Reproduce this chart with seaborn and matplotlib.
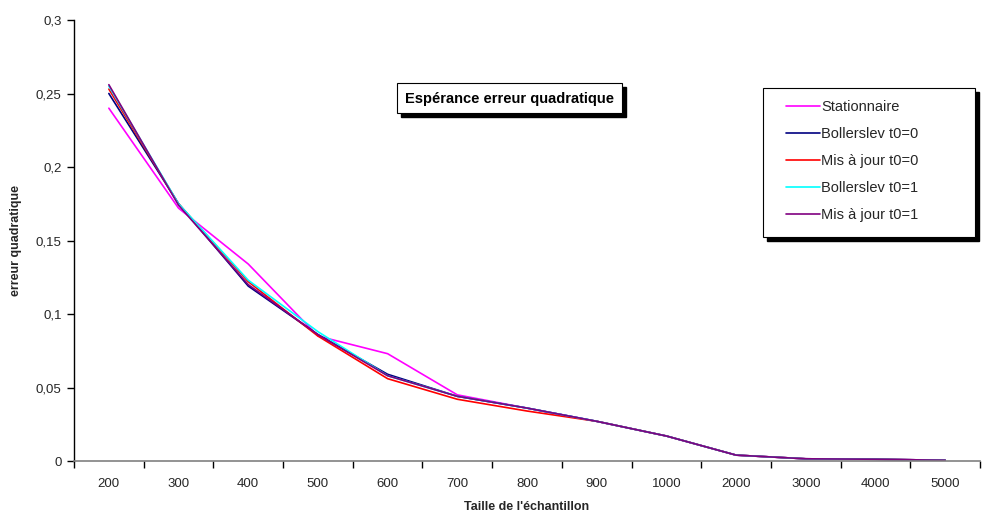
import matplotlib
matplotlib.use("Agg")
import matplotlib.pyplot as plt
from matplotlib.patches import Rectangle
import seaborn as sns
import pandas as pd
import numpy as np

categories = ["200", "300", "400", "500", "600", "700", "800", "900", "1000", "2000", "3000", "4000", "5000"]
stationnaire = [0.240, 0.172, 0.134, 0.085, 0.073, 0.045, 0.036, 0.027, 0.017, 0.004, 0.0015, 0.0012, 0.0005]
bollerslev_t0_0 = [0.250, 0.175, 0.119, 0.086, 0.059, 0.044, 0.036, 0.027, 0.017, 0.004, 0.0015, 0.0012, 0.0005]
misajour_t0_0 = [0.253, 0.175, 0.122, 0.085, 0.056, 0.042, 0.034, 0.027, 0.017, 0.004, 0.0015, 0.0012, 0.0005]
bollerslev_t0_1 = [0.255, 0.175, 0.123, 0.088, 0.058, 0.044, 0.036, 0.027, 0.017, 0.004, 0.0015, 0.0012, 0.0005]
misajour_t0_1 = [0.256, 0.174, 0.120, 0.086, 0.058, 0.044, 0.036, 0.027, 0.017, 0.004, 0.0015, 0.0012, 0.0005]

series_names = ["Stationnaire", "Bollerslev t0=0", "Mis à jour t0=0", "Bollerslev t0=1", "Mis à jour t0=1"]
series_values = [stationnaire, bollerslev_t0_0, misajour_t0_0, bollerslev_t0_1, misajour_t0_1]
colors = ["#FF00FF", "#000080", "#FF0000", "#00FFFF", "#800080"]

y_ticks = [0, 0.05, 0.1, 0.15, 0.2, 0.25, 0.3]
y_ticklabels = ["0", "0,05", "0,1", "0,15", "0,2", "0,25", "0,3"]

rows = []
for name, vals in zip(series_names, series_values):
    for i, (c, v) in enumerate(zip(categories, vals)):
        rows.append({"pos": i, "cat": c, "serie": name, "val": v})
df = pd.DataFrame(rows)

sns.set_style("white")
plt.rcParams["font.family"] = ["Liberation Sans", "DejaVu Sans"]

W, H = 1006, 514
fig = plt.figure(figsize=(W / 100, H / 100), dpi=100)
ax = fig.add_axes([74 / W, 1 - 461 / H, (980 - 74) / W, (461 - 20) / H])

sns.lineplot(data=df, x="pos", y="val", hue="serie", hue_order=series_names,
             palette=colors, linewidth=1.2, ax=ax, legend=True)

ax.set_xlim(-0.5, len(categories) - 0.5)
ax.set_ylim(0, 0.3)
ax.set_yticks(y_ticks)
ax.set_yticklabels(y_ticklabels, fontsize=9.5)
ax.set_xticks(range(len(categories)))
ax.set_xticklabels(categories, fontsize=9.5)
ax.set_xticks(np.arange(-0.5, len(categories), 1.0), minor=True)
ax.tick_params(axis="x", which="major", length=0, pad=12)
ax.tick_params(axis="x", which="minor", length=5, width=1, color="black", direction="out", bottom=True)
ax.tick_params(axis="y", which="major", length=5, width=1, color="black", direction="out", left=True, pad=4)

for s in ["top", "right"]:
    ax.spines[s].set_visible(False)
ax.spines["left"].set_color("black")
ax.spines["bottom"].set_color("#808080")
ax.spines["left"].set_linewidth(1)
ax.spines["bottom"].set_linewidth(1.2)
ax.grid(False)

ax.set_xlabel("Taille de l'échantillon", fontsize=9, fontweight="bold", labelpad=8)
ax.set_ylabel("erreur quadratique", fontsize=9, fontweight="bold", labelpad=10)

handles, labels = ax.get_legend_handles_labels()
ax.get_legend().remove()


def shadow_box(x0, y0, x1, y1, off=4):
    # pixel coords from top-left
    fig.patches.append(Rectangle(((x0 + off) / W, 1 - (y1 + off) / H), (x1 - x0) / W, (y1 - y0) / H,
                                 transform=fig.transFigure, facecolor="black", edgecolor="black",
                                 zorder=5))
    fig.patches.append(Rectangle((x0 / W, 1 - y1 / H), (x1 - x0) / W, (y1 - y0) / H,
                                 transform=fig.transFigure, facecolor="white", edgecolor="black",
                                 linewidth=0.8, zorder=6))


# legend box
shadow_box(763, 88, 975, 237)
leg = fig.legend(handles, labels, loc="upper left", bbox_to_anchor=(786 / W, 1 - 100 / H),
                 bbox_transform=fig.transFigure, fontsize=10.5, frameon=False,
                 handlelength=2.35, handletextpad=0.05, labelspacing=0.9,
                 borderpad=0, borderaxespad=0)
leg.set_zorder(7)
for line in leg.get_lines():
    line.set_linewidth(1.2)

# title box
shadow_box(397, 83, 622, 113, off=4)
fig.text(509.5 / W, 1 - 98.5 / H, "Espérance erreur quadratique", fontsize=10.5, fontweight="bold",
         ha="center", va="center", color="black", zorder=8)

fig.savefig("out.png", dpi=100, facecolor="white")
